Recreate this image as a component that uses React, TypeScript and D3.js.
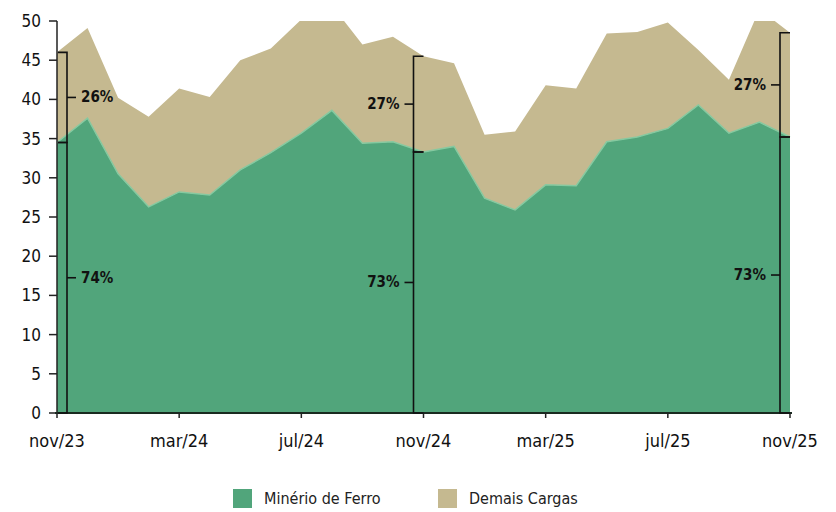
import React, { useEffect, useRef } from 'react';
import * as d3 from 'd3';

const months = ['nov/23', 'dez/23', 'jan/24', 'fev/24', 'mar/24', 'abr/24', 'mai/24', 'jun/24', 'jul/24', 'ago/24', 'set/24', 'out/24',
  'nov/24', 'dez/24', 'jan/25', 'fev/25', 'mar/25', 'abr/25', 'mai/25', 'jun/25', 'jul/25', 'ago/25', 'set/25', 'out/25', 'nov/25'];
const minerio = [34.5, 37.6, 30.5, 26.3, 28.2, 27.8, 31.0, 33.2, 35.7, 38.6, 34.4, 34.6, 33.3, 34.0, 27.4, 25.9, 29.1, 29.0, 34.6, 35.2, 36.3, 39.3, 35.7, 37.1, 35.2];
const demais = [11.5, 11.5, 9.7, 11.5, 13.2, 12.5, 14.0, 13.3, 14.5, 13.4, 12.6, 13.4, 12.2, 10.6, 8.1, 10.0, 12.7, 12.4, 13.8, 13.4, 13.5, 7.0, 6.8, 14.4, 13.3];
const xTickLabels = ['nov/23', 'mar/24', 'jul/24', 'nov/24', 'mar/25', 'jul/25', 'nov/25'];
const yTicks = [0, 5, 10, 15, 20, 25, 30, 35, 40, 45, 50];
const seriesNames = ['Minério de Ferro', 'Demais Cargas'];
const bracketIdx = [0, 12, 24];
const upperLabels = ['26%', '27%', '27%'];
const lowerLabels = ['74%', '73%', '73%'];

const GREEN = '#51a57b';
const TAN = '#c5b990';
const FONT = '"Liberation Sans Narrow", "DejaVu Sans Condensed", sans-serif';

export default function App() {
  const svgRef = useRef<SVGSVGElement>(null);

  useEffect(() => {
    document.body.style.margin = '0';
    const width = 836;
    const height = 512;
    const svg = d3.select(svgRef.current).attr('width', width).attr('height', height);
    svg.selectAll('*').remove();

    const x = d3.scalePoint().domain(months).range([57, 790]);
    const y = d3.scaleLinear().domain([0, 50]).range([413, 21]);

    const table = months.map((m, i) => ({ month: m, minerio: minerio[i], demais: demais[i] }));
    const stack = d3.stack<any>().keys(['minerio', 'demais']);
    const layers = stack(table);

    svg.append('clipPath').attr('id', 'plot-clip')
      .append('rect').attr('x', 0).attr('y', y(50)).attr('width', width).attr('height', y(0) - y(50));

    const area = d3.area<any>()
      .x(d => x(d.data.month)!)
      .y0(d => y(d[0]))
      .y1(d => y(d[1]));

    const g = svg.append('g').attr('clip-path', 'url(#plot-clip)');
    g.selectAll('path.layer')
      .data(layers)
      .enter()
      .append('path')
      .attr('class', 'layer')
      .attr('d', area)
      .attr('fill', (d, i) => (i === 0 ? GREEN : TAN));

    // light edge on top of the green area
    const topLine = d3.line<any>().x(d => x(d.data.month)!).y(d => y(d[1]));
    g.append('path')
      .attr('d', topLine(layers[0]))
      .attr('fill', 'none')
      .attr('stroke', '#86c9a0')
      .attr('stroke-width', 1.5);

    // y axis
    svg.append('line').attr('x1', 57).attr('x2', 57).attr('y1', y(50)).attr('y2', y(0))
      .attr('stroke', '#222').attr('stroke-width', 1.5);
    const yt = svg.selectAll('.ytick').data(yTicks).enter().append('g').attr('class', 'ytick');
    yt.append('line').attr('x1', 49).attr('x2', 57).attr('y1', d => y(d)).attr('y2', d => y(d))
      .attr('stroke', '#222').attr('stroke-width', 1.5);
    yt.append('text').attr('x', 41).attr('y', d => y(d) + 6).attr('text-anchor', 'end')
      .style('font-family', FONT).style('font-size', '17px').attr('fill', '#111').text(d => d);

    // x axis
    svg.append('line').attr('x1', 55).attr('x2', 792).attr('y1', y(0)).attr('y2', y(0))
      .attr('stroke', '#1a2a20').attr('stroke-width', 2);
    const xt = svg.selectAll('.xtick').data(xTickLabels).enter().append('g').attr('class', 'xtick');
    xt.append('line').attr('x1', d => x(d)!).attr('x2', d => x(d)!).attr('y1', y(0)).attr('y2', y(0) + 5)
      .attr('stroke', '#222').attr('stroke-width', 1.5);
    xt.append('text').attr('x', d => x(d)!).attr('y', 447).attr('text-anchor', 'middle')
      .style('font-family', FONT).style('font-size', '18px').attr('fill', '#111').text(d => d);

    // share brackets
    bracketIdx.forEach((idx, k) => {
      const first = k === 0;
      const bx = x(months[idx])! + (first ? 10 : -10);
      const capDir = first ? -9 : 10;
      const tickDir = first ? 9 : -9;
      const top = minerio[idx] + demais[idx];
      const mid = minerio[idx];
      const segs = [
        { y1: y(top), y2: y(mid), label: upperLabels[k] },
        { y1: y(mid), y2: y(0), label: lowerLabels[k] },
      ];
      const bg = svg.append('g');
      segs.forEach(s => {
        const ym = (s.y1 + s.y2) / 2;
        bg.append('path')
          .attr('d', `M${bx + capDir},${s.y1}H${bx}V${s.y2}H${bx + capDir}`)
          .attr('fill', 'none').attr('stroke', '#111').attr('stroke-width', 1.6);
        bg.append('line').attr('x1', bx).attr('x2', bx + tickDir).attr('y1', ym).attr('y2', ym)
          .attr('stroke', '#111').attr('stroke-width', 1.6);
        bg.append('text')
          .attr('x', bx + tickDir + (first ? 5 : -5))
          .attr('y', ym + 5)
          .attr('text-anchor', first ? 'start' : 'end')
          .style('font-family', FONT).style('font-size', '15px').style('font-weight', 'bold')
          .attr('fill', '#111').text(s.label);
      });
    });

    // legend
    const legendX = [233, 438];
    const lg = svg.selectAll('.legend').data(seriesNames).enter().append('g')
      .attr('class', 'legend')
      .attr('transform', (d, i) => `translate(${legendX[i]}, 489)`);
    lg.append('rect').attr('width', 19).attr('height', 19).attr('fill', (d, i) => (i === 0 ? GREEN : TAN));
    lg.append('text').attr('x', 31).attr('y', 15)
      .style('font-family', FONT).style('font-size', '16px').attr('fill', '#222').text(d => d);
  }, []);

  return <svg ref={svgRef} style={{ display: 'block' }}></svg>;
}
